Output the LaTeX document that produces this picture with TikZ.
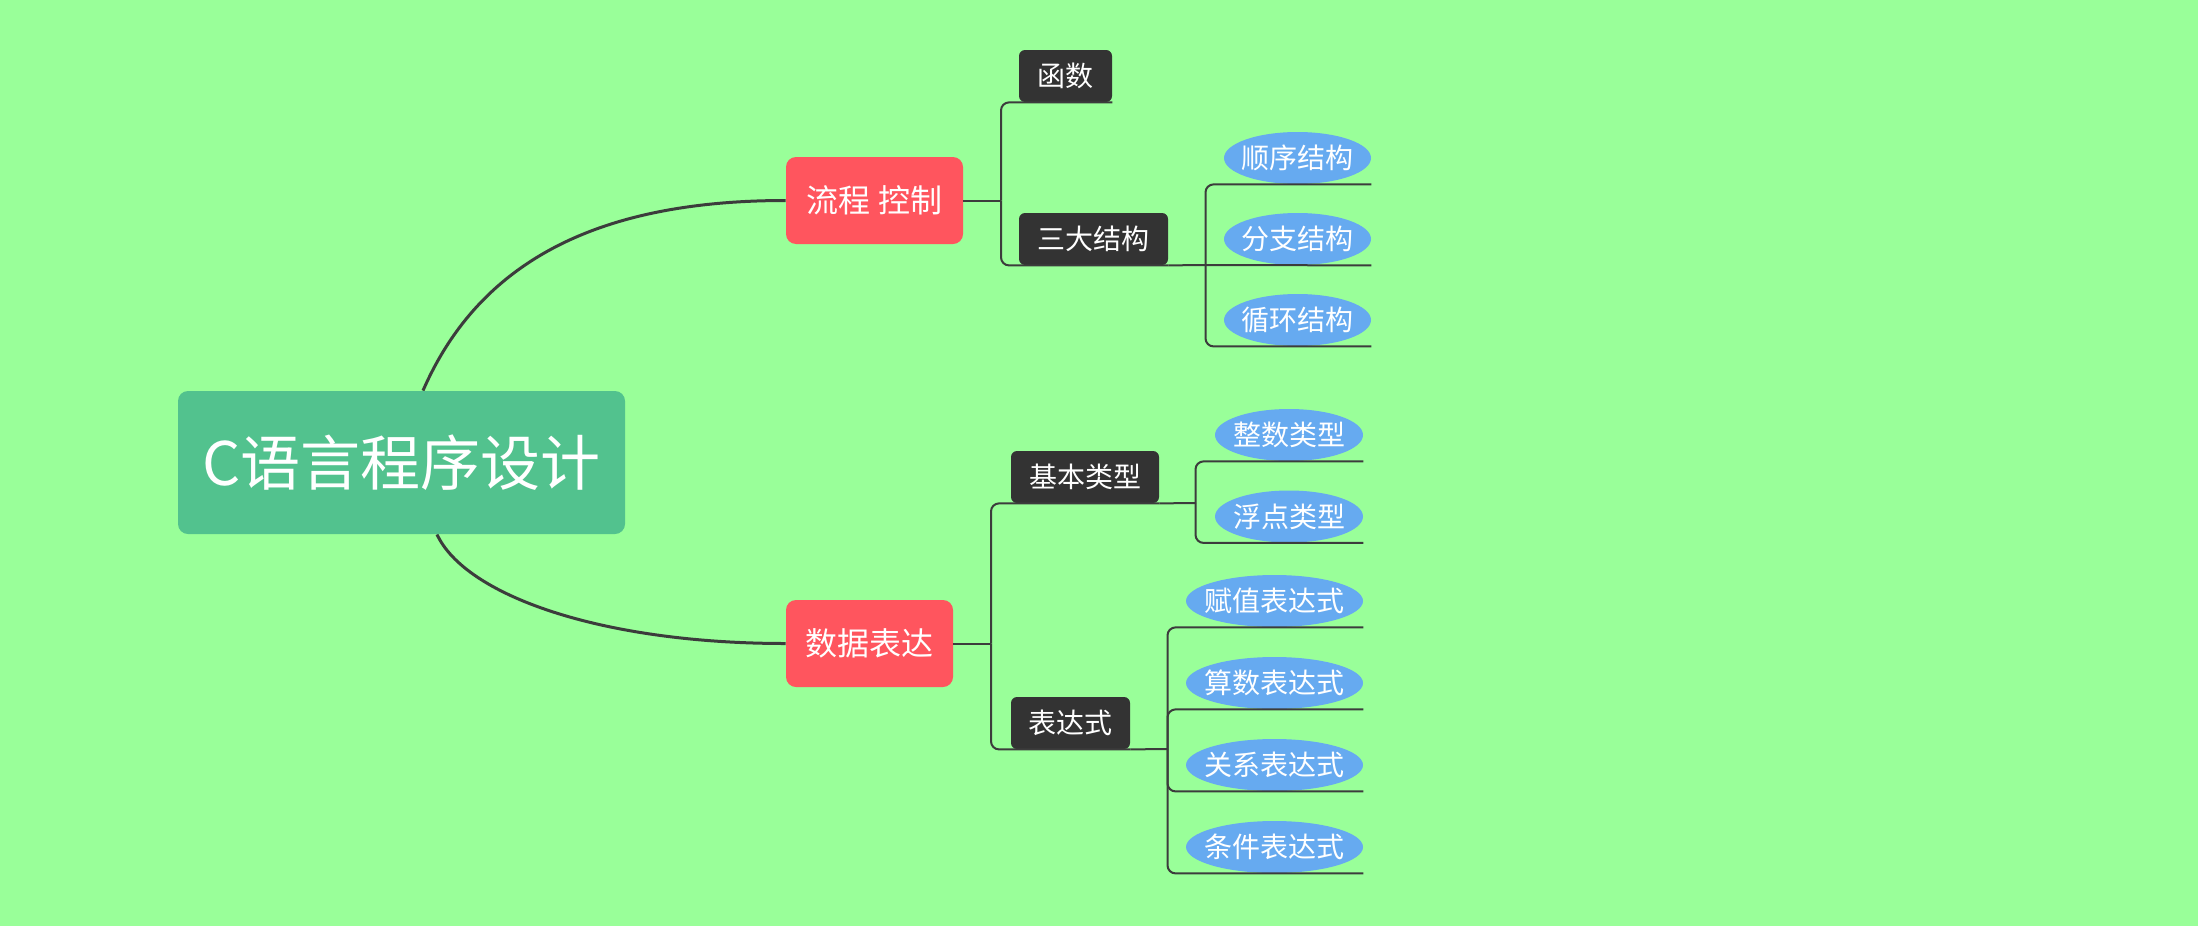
\documentclass[tikz,border=0pt]{standalone}
\usepackage{fontspec}
\newfontfamily\cjk{Noto Sans CJK SC}
\usetikzlibrary{shapes.geometric,calc,backgrounds}
\definecolor{bgc}{RGB}{153,255,153}
\definecolor{rootc}{RGB}{82,194,142}
\definecolor{redc}{RGB}{255,85,94}
\definecolor{darkc}{RGB}{51,51,51}
\definecolor{bluec}{RGB}{102,170,240}
\definecolor{linec}{RGB}{60,60,60}
\begin{document}
\begin{tikzpicture}[x=0.5pt,y=-0.5pt,
  rootbox/.style={draw=none,fill=rootc,rounded corners=5pt,text=white,inner sep=0pt,font=\cjk\fontsize{30pt}{36pt}\selectfont,minimum width=223.5pt,minimum height=71.5pt},
  redbox/.style={draw=none,fill=redc,rounded corners=5pt,text=white,inner sep=0pt,font=\cjk\fontsize{16pt}{19pt}\selectfont,minimum height=43.5pt},
  darkbox/.style={draw=none,fill=darkc,rounded corners=3pt,text=white,inner sep=0pt,font=\cjk\fontsize{14pt}{17pt}\selectfont,minimum height=26pt},
  leaf/.style={ellipse,draw=none,fill=bluec,text=white,inner xsep=-4pt,inner ysep=0pt,font=\cjk\fontsize{14pt}{17pt}\selectfont,minimum height=26pt},
  maincurve/.style={draw=linec,line width=1.5pt},
  tree/.style={draw=linec,line width=1pt},
  elbow/.style={tree,rounded corners=4pt}]

% nodes
\node[rootbox] (root) at (401.5,462.5) {C语言程序设计};
\node[redbox,minimum width=88.5pt] (pc) at (874.5,200.5) {流程 控制};
\node[redbox,minimum width=83.5pt] (data) at (869.5,643.5) {数据表达};

\node[darkbox,minimum width=46.5pt] (fn) at (1065.5,76) {函数};
\node[darkbox,minimum width=74.5pt] (sd) at (1093.5,239) {三大结构};
\node[darkbox,minimum width=74pt] (jb) at (1085,477) {基本类型};
\node[darkbox,minimum width=59.5pt] (bd) at (1070.5,723) {表达式};

\node[leaf,minimum width=73.5pt] (s1) at (1297.5,158) {顺序结构};
\node[leaf,minimum width=73.5pt] (s2) at (1297.5,239) {分支结构};
\node[leaf,minimum width=73.5pt] (s3) at (1297.5,320) {循环结构};

\node[leaf,minimum width=74pt] (t1) at (1289,435) {整数类型};
\node[leaf,minimum width=74pt] (t2) at (1289,516.5) {浮点类型};

\node[leaf,minimum width=88.5pt] (u1) at (1274.5,601) {赋值表达式};
\node[leaf,minimum width=88.5pt] (u2) at (1274.5,683) {算数表达式};
\node[leaf,minimum width=88.5pt] (u3) at (1274.5,765) {关系表达式};
\node[leaf,minimum width=88.5pt] (u4) at (1274.5,847) {条件表达式};

% branch points
\coordinate (b1) at (1001,200.5);
\coordinate (b2) at (1205.5,265);
\coordinate (b3) at (991,643.5);
\coordinate (b4) at (1195.5,503);
\coordinate (b5) at (1167.5,749);

\begin{scope}[on background layer]
  \fill[bgc] (0,0) rectangle (2198,926);
  \useasboundingbox (0,0) rectangle (2198,926);
  \draw[maincurve] ($(root.north)+(21.5,0)$) .. controls (480,260) and (600,200.5) .. (pc.west);
  \draw[maincurve] ($(root.south)+(35.5,0)$) .. controls (465,595) and (600,643.5) .. (data.west);
\end{scope}

% 流程 控制 subtree
\draw[tree] (pc.east) -- (b1);
\draw[elbow] (fn.south east) -| (b1);
\draw[elbow] (sd.south east) -| (b1);
\draw[tree] (sd.south east) -- (b2);
\draw[elbow] (s1.south -| s1.east) -| (b2);
\draw[tree] (s2.south -| s2.east) -- (b2);
\draw[elbow] (s3.south -| s3.east) -| (b2);

% 数据表达 subtree
\draw[tree] (data.east) -- (b3);
\draw[elbow] (jb.south east) -| (b3);
\draw[elbow] (bd.south east) -| (b3);
\draw[tree] (jb.south east) -- (b4);
\draw[elbow] (t1.south -| t1.east) -| (b4);
\draw[elbow] (t2.south -| t2.east) -| (b4);
\draw[tree] (bd.south east) -- (b5);
\draw[elbow] (u1.south -| u1.east) -| (b5);
\draw[elbow] (u2.south -| u2.east) -| (b5);
\draw[elbow] (u3.south -| u3.east) -| (b5);
\draw[elbow] (u4.south -| u4.east) -| (b5);
\end{tikzpicture}
\end{document}
